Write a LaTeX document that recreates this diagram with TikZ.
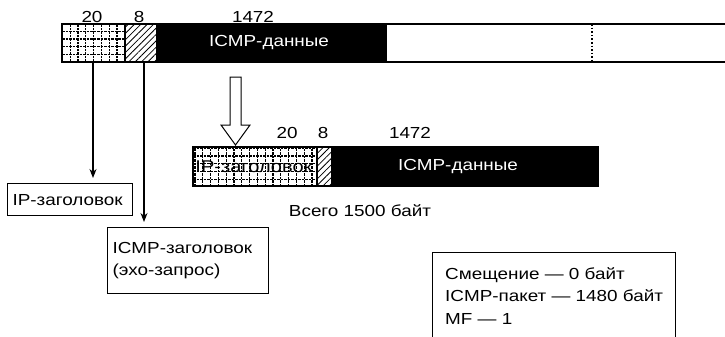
\documentclass[tikz,border=0pt]{standalone}
\usepackage{fontspec}
\setmainfont{Liberation Sans}[FakeStretch=1.18]
\usetikzlibrary{arrows.meta,calc,positioning,patterns.meta}
\tikzset{
  hdrgrid/.style={draw=black,line width=1.1pt,dash pattern=on 2.5pt off 1pt},
  hatchfill/.style={pattern={Lines[angle=45,distance=4.5pt,line width=0.8pt]}},
  lbox/.style={draw,line width=1.2pt,align=left,anchor=north west,inner ysep=0pt},
  numlbl/.style={font=\fontsize{16}{18}\selectfont},
  outl/.style={line width=1.3pt}
}

\begin{document}
\begin{tikzpicture}[x=1pt,y=-1pt,>={Stealth[length=9pt,width=7pt]},font=\fontsize{16}{22.5}\selectfont]
\useasboundingbox (0,0) rectangle (725,337);
% upper datagram
\coordinate (U0) at (62,24);\coordinate (U1) at (728,62);
\fill[white] (U0) rectangle (125,62);
\draw[hdrgrid,step=7.8pt] (U0) grid (125,62);
\fill[hatchfill] (125,24) rectangle (157,62);
\fill (157,24) rectangle (387,62);
\draw[outl] (U0) rectangle (U1);
\draw[outl] (125,24)--(125,62) (157,24)--(157,62);
\draw[line width=1.6pt,dotted] (592,24)--(592,62);
\node[numlbl] (n20u) at (92,17) {20};
\node[numlbl] (n8u) at (139,17) {8};
\node[numlbl] (n1472u) at (253,17) {1472};
\node[text=white] (datu) at (269,43) {ICMP-данные};
% headers
\coordinate (ipu) at (93,62);\coordinate (icu) at (144,62);
\node[lbox,inner xsep=5pt,text width=115pt,minimum height=32pt] (iphdr) at (7,183) {IP-заголовок};
\node[lbox,inner xsep=5pt,text width=151pt,minimum height=66pt] (icmphdr) at (107,227) {ICMP-заголовок\\(эхо-запрос)};
\draw[->,line width=1.1pt,shorten >=5pt] (ipu) -- (ipu |- iphdr.north);
\draw[->,line width=1.1pt,shorten >=5pt] (icu) -- (icu |- icmphdr.north);
% hollow arrow
\draw[line width=1pt,fill=white] (230,77) -- (241,77) -- (241,125) -- (250,125) -- (235.5,145) -- (221,125) -- (230,125) -- cycle;
% lower datagram
\coordinate (L0) at (193,147);\coordinate (L1) at (598,186);
\fill[white] (L0) rectangle (317,186);
\draw[hdrgrid,step=7.8pt] (L0) grid (317,186);
\fill[hatchfill] (317,147) rectangle (331,186);
\fill (331,147) rectangle (L1);
\draw[outl] (L0) rectangle (L1);
\draw[outl] (317,147)--(317,186);
\node[font=\fontsize{17}{20}\selectfont] (iplo) at (254,167) {IP-заголовок};
\node[numlbl] (n20l) at (287,133) {20};
\node[numlbl] (n8l) at (323,133) {8};
\node[numlbl] (n1472l) at (410,133) {1472};
\node[text=white] (datl) at (458,167) {ICMP-данные};
\node (total) at (360,211) {Всего 1500 байт};
% info
\node[lbox,inner xsep=0pt,minimum width=243pt,minimum height=86pt] (info) at (432,252) {Смещение — 0 байт\\ICMP-пакет — 1480 байт\\MF — 1};
\end{tikzpicture}
\end{document}
